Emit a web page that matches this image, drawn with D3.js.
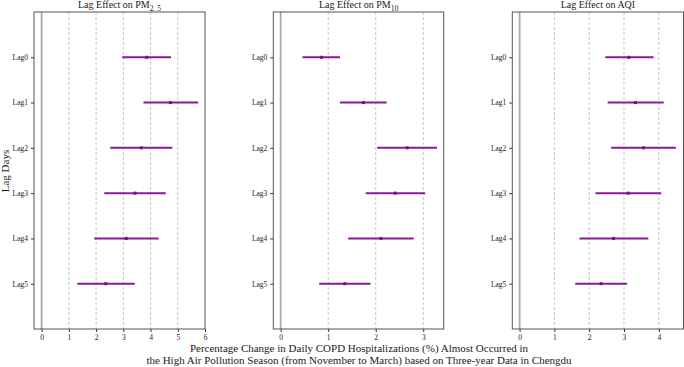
<!DOCTYPE html>
<html>
<head>
<meta charset="utf-8">
<script src="https://cdn.jsdelivr.net/npm/d3@7"></script>
<style>
  body { margin: 0; background: #fff; }
  svg { display: block; font-family: "Liberation Serif", "Times New Roman", serif; }
</style>
</head>
<body>
<svg id="chart" width="684" height="367"></svg>
<script>
// lag days (categories)
const lags = ["Lag0", "Lag1", "Lag2", "Lag3", "Lag4", "Lag5"];

// PM2.5 : point estimate and 95% CI
const pm25Est   = [3.86, 4.73, 3.66, 3.43, 3.11, 2.35];
const pm25Lower = [2.96, 3.74, 2.52, 2.30, 1.93, 1.31];
const pm25Upper = [4.75, 5.75, 4.80, 4.56, 4.30, 3.42];

// PM10
const pm10Est   = [0.86, 1.74, 2.66, 2.41, 2.11, 1.35];
const pm10Lower = [0.46, 1.25, 2.03, 1.79, 1.42, 0.81];
const pm10Upper = [1.25, 2.23, 3.29, 3.04, 2.80, 1.89];

// AQI
const aqiEst   = [3.14, 3.33, 3.56, 3.12, 2.70, 2.34];
const aqiLower = [2.46, 2.53, 2.63, 2.18, 1.72, 1.60];
const aqiUpper = [3.85, 4.14, 4.49, 4.07, 3.70, 3.09];

const pm25Ticks = [0, 1, 2, 3, 4, 5, 6];
const pm10Ticks = [0, 1, 2, 3];
const aqiTicks  = [0, 1, 2, 3, 4];

const svg = d3.select("#chart");

const plotTop = 12, plotBottom = 329;
const lineColor = "#8b1a93";
const textColor = "#1a1a1a";

// one entry per subplot
const panels = [
    {title: ["Lag Effect on PM", "2. 5"], est: pm25Est, lo: pm25Lower, hi: pm25Upper,
     ticks: pm25Ticks, domain: [-0.28, 6], left: 34, right: 205},
    {title: ["Lag Effect on PM", "10"], est: pm10Est, lo: pm10Lower, hi: pm10Upper,
     ticks: pm10Ticks, domain: [-0.155, 3.43], left: 273.3, right: 443.7},
    {title: ["Lag Effect on AQI", ""], est: aqiEst, lo: aqiLower, hi: aqiUpper,
     ticks: aqiTicks, domain: [-0.21, 4.71], left: 512.3, right: 683.5}
];

const y = d3.scaleLinear().domain([-1, 6]).range([plotTop, plotBottom]);

panels.forEach(p => {
    const x = d3.scaleLinear().domain(p.domain).range([p.left, p.right]);
    const g = svg.append("g");

    const rows = lags.map((l, i) => ({lag: l, i: i, est: p.est[i], lo: p.lo[i], hi: p.hi[i]}));

    // dashed grid
    g.selectAll(".grid")
        .data(p.ticks.filter(t => t !== 0 && x(t) < p.right - 1))
        .enter().append("line")
        .attr("x1", d => x(d)).attr("x2", d => x(d))
        .attr("y1", plotTop).attr("y2", plotBottom)
        .attr("stroke", "#b8b8b8")
        .attr("stroke-width", 0.8)
        .attr("stroke-dasharray", "3,2");

    // zero reference line
    g.append("line")
        .attr("x1", x(0)).attr("x2", x(0))
        .attr("y1", plotTop).attr("y2", plotBottom)
        .attr("stroke", "#aaaaaa")
        .attr("stroke-width", 1.8);

    // confidence intervals
    g.selectAll(".ci")
        .data(rows)
        .enter().append("line")
        .attr("x1", d => x(d.lo)).attr("x2", d => x(d.hi))
        .attr("y1", d => y(d.i)).attr("y2", d => y(d.i))
        .attr("stroke", lineColor)
        .attr("stroke-width", 2);

    // point estimates
    g.selectAll(".pt")
        .data(rows)
        .enter().append("rect")
        .attr("x", d => x(d.est) - 1.5).attr("y", d => y(d.i) - 1.5)
        .attr("width", 3).attr("height", 3)
        .attr("fill", "#7a0f80");

    // frame
    g.append("rect")
        .attr("x", p.left).attr("y", plotTop)
        .attr("width", p.right - p.left).attr("height", plotBottom - plotTop)
        .attr("fill", "none")
        .attr("stroke", "#555")
        .attr("stroke-width", 1);

    // x axis
    const xAxis = g.append("g")
        .attr("transform", `translate(0,${plotBottom})`)
        .call(d3.axisBottom(x).tickValues(p.ticks).tickSize(3).tickPadding(3).tickFormat(d3.format("d")));
    xAxis.select(".domain").remove();
    xAxis.attr("font-family", null).attr("font-size", null);
    xAxis.selectAll("line").attr("stroke", "#333");
    xAxis.selectAll("text").attr("font-size", 7.5).attr("fill", textColor);

    // y axis
    const yAxis = g.append("g")
        .attr("transform", `translate(${p.left},0)`)
        .call(d3.axisLeft(y).tickValues(d3.range(lags.length)).tickSize(3).tickPadding(3)
            .tickFormat(i => lags[i]));
    yAxis.select(".domain").remove();
    yAxis.attr("font-family", null).attr("font-size", null);
    yAxis.selectAll("line").attr("stroke", "#333");
    yAxis.selectAll("text").attr("font-size", 7.5).attr("fill", textColor);

    // title with subscript
    const t = g.append("text")
        .attr("x", (p.left + p.right) / 2)
        .attr("y", 8)
        .attr("text-anchor", "middle")
        .attr("font-size", 10)
        .attr("fill", textColor);
    t.append("tspan").text(p.title[0]);
    if (p.title[1]) {
        t.append("tspan").attr("dy", 2.5).attr("font-size", 7.5).text(p.title[1]);
    }
});

// y label
svg.append("text")
    .attr("transform", "translate(9,171) rotate(-90)")
    .attr("text-anchor", "middle")
    .attr("font-size", 11)
    .attr("fill", textColor)
    .text("Lag Days");

// x label under the middle panel
const xl = svg.append("text")
    .attr("text-anchor", "middle")
    .attr("font-size", 11)
    .attr("fill", textColor);
xl.append("tspan").attr("x", 359).attr("y", 352)
    .text("Percentage Change in Daily COPD Hospitalizations (%) Almost Occurred in");
xl.append("tspan").attr("x", 359).attr("y", 364)
    .text("the High Air Pollution Season (from November to March) based on Three-year Data in Chengdu");
</script>
</body>
</html>
